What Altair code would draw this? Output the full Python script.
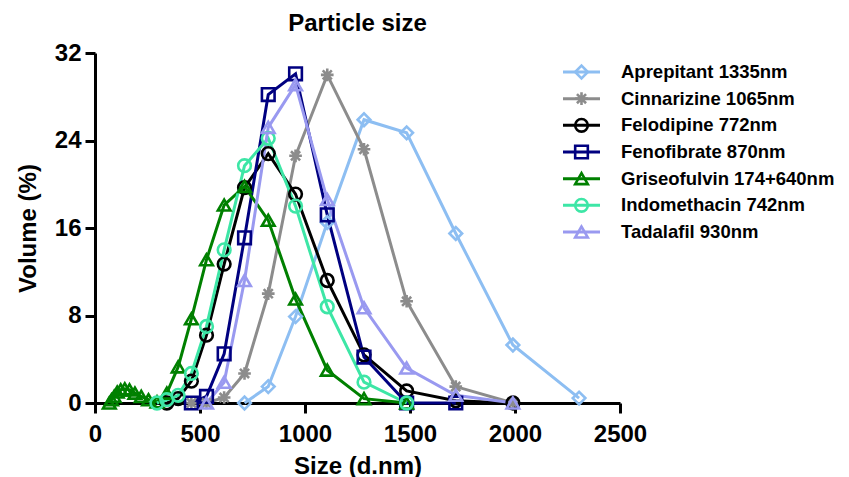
import altair as alt
import pandas as pd

# ---- data ----
drugs = ["Aprepitant 1335nm", "Cinnarizine 1065nm", "Felodipine 772nm",
         "Fenofibrate 870nm", "Griseofulvin 174+640nm", "Indomethacin 742nm",
         "Tadalafil 930nm"]
colors = ["#8DBEF2", "#8C8C8C", "#000000", "#000080", "#008000", "#3DE6A6", "#9999F0"]

aprepitant_x = [712, 825, 955, 1106, 1281, 1484, 1718, 1990, 2305]
aprepitant_y = [0, 1.5, 7.9, 16.5, 25.9, 24.7, 15.5, 5.3, 0.45]

cinnarizine_x = [459, 531, 615, 712, 825, 955, 1106, 1281, 1484, 1718, 1990]
cinnarizine_y = [0, 0, 0.5, 2.7, 10.0, 22.6, 30.0, 23.2, 9.3, 1.5, 0]

felodipine_x = [342, 396, 459, 531, 615, 712, 825, 955, 1106, 1281, 1484, 1718, 1990]
felodipine_y = [0, 0.4, 2.0, 6.2, 12.7, 19.7, 22.8, 19.1, 11.2, 4.4, 1.1, 0.2, 0]

fenofibrate_x = [459, 531, 615, 712, 825, 955, 1106, 1281, 1484, 1718]
fenofibrate_y = [0, 0.6, 4.5, 15.1, 28.2, 30.1, 17.2, 4.2, 0, 0]

griseofulvin_x = [68.1, 78.8, 91.3, 105.7, 122.4, 141.8, 164.2, 190.1, 220.2, 255, 295.3,
                  342, 396, 459, 531, 615, 712, 825, 955, 1106, 1281, 1484]
griseofulvin_y = [0, 0.3, 0.6, 1.0, 1.2, 1.3, 1.2, 0.9, 0.6, 0.3, 0.1,
                  0.9, 3.3, 7.7, 13.1, 18.1, 19.8, 16.7, 9.5, 3.0, 0.4, 0]

indomethacin_x = [295, 342, 396, 459, 531, 615, 712, 825, 955, 1106, 1281, 1484]
indomethacin_y = [0, 0.3, 0.7, 2.7, 7.0, 14.0, 21.7, 24.2, 18.0, 8.8, 1.9, 0]

tadalafil_x = [531, 615, 712, 825, 955, 1106, 1281, 1484, 1718, 1990]
tadalafil_y = [0, 1.9, 11.2, 25.2, 29.1, 18.6, 8.7, 3.2, 0.7, 0]

x_ticks = [0, 500, 1000, 1500, 2000, 2500]
y_ticks = [0, 8, 16, 24, 32]

series = [
    (drugs[0], aprepitant_x, aprepitant_y),
    (drugs[1], cinnarizine_x, cinnarizine_y),
    (drugs[2], felodipine_x, felodipine_y),
    (drugs[3], fenofibrate_x, fenofibrate_y),
    (drugs[4], griseofulvin_x, griseofulvin_y),
    (drugs[5], indomethacin_x, indomethacin_y),
    (drugs[6], tadalafil_x, tadalafil_y),
]
rows = []
for name, xs, ys in series:
    for i, (a, b) in enumerate(zip(xs, ys)):
        rows.append({"drug": name, "size": a, "volume": b, "order": i})
df = pd.DataFrame(rows)
legend_df = pd.DataFrame({"drug": drugs})

asterisk = "M-1,0L1,0M0,-1L0,1M-0.72,-0.72L0.72,0.72M-0.72,0.72L0.72,-0.72"
shapes = ["diamond", asterisk, "circle", "square", "triangle-up", "circle", "triangle-up"]

FONT = "Liberation Sans"
color_scale = alt.Scale(domain=drugs, range=colors)
shape_scale = alt.Scale(domain=drugs, range=shapes)

x_enc = alt.X("size:Q", scale=alt.Scale(domain=[0, 2500], nice=False),
              axis=alt.Axis(values=x_ticks, format="d", title="Size (d.nm)", grid=False,
                            tickSize=10, tickWidth=3, domainWidth=3, domainColor="black",
                            tickColor="black", labelFont=FONT, labelFontSize=24,
                            labelFontWeight="bold", labelColor="black", labelPadding=9,
                            titleFont=FONT, titleFontSize=24, titleFontWeight="bold",
                            titleColor="black", titlePadding=8, labelFlush=False))
y_enc = alt.Y("volume:Q", scale=alt.Scale(domain=[0, 32], nice=False),
              axis=alt.Axis(values=y_ticks, format="d", title="Volume (%)", grid=False,
                            tickSize=10, tickWidth=3, domainWidth=3, domainColor="black",
                            tickColor="black", labelFont=FONT, labelFontSize=24,
                            labelFontWeight="bold", labelColor="black", labelPadding=4,
                            titleFont=FONT, titleFontSize=24, titleFontWeight="bold",
                            titleColor="black", titlePadding=14, labelFlush=False))

lines = alt.Chart(df).mark_line(strokeWidth=3).encode(
    x=x_enc, y=y_enc,
    color=alt.Color("drug:N", scale=color_scale, legend=None),
    detail="drug:N",
    order="order:Q",
)
points = alt.Chart(df).mark_point(filled=False, size=160, strokeWidth=2.6, opacity=1).encode(
    x="size:Q", y="volume:Q",
    color=alt.Color("drug:N", scale=color_scale, legend=None),
    shape=alt.Shape("drug:N", scale=shape_scale, legend=None),
)
main = alt.layer(lines, points)

ly = alt.Y("drug:N", scale=alt.Scale(type="point", domain=drugs, range=[19, 179], padding=0),
           axis=None)
leg_rule = alt.Chart(legend_df).mark_rule(strokeWidth=3).encode(
    x=alt.value(468), x2=alt.value(505), y=ly,
    color=alt.Color("drug:N", scale=color_scale, legend=None),
)
leg_point = alt.Chart(legend_df).mark_point(filled=False, size=160, strokeWidth=2.6, opacity=1).encode(
    x=alt.value(486.5), y=ly,
    color=alt.Color("drug:N", scale=color_scale, legend=None),
    shape=alt.Shape("drug:N", scale=shape_scale, legend=None),
)
leg_text = alt.Chart(legend_df).mark_text(align="left", baseline="middle", font=FONT,
                                          fontSize=18.5, fontWeight="bold", color="black").encode(
    x=alt.value(526), y=ly, text="drug:N",
)
legend = alt.layer(leg_rule, leg_point, leg_text)

chart = alt.layer(main, legend).resolve_scale(y="independent").properties(
    width=525, height=350,
    title=alt.TitleParams("Particle size", font=FONT, fontSize=24, fontWeight="bold",
                          color="black", anchor="middle", offset=5),
    autosize=alt.AutoSizeParams(type="none"),
    padding={"left": 95, "top": 53, "right": 229, "bottom": 74},
).configure_view(stroke=None)

chart.save("out.html", embed_options={"renderer": "svg", "actions": False})
